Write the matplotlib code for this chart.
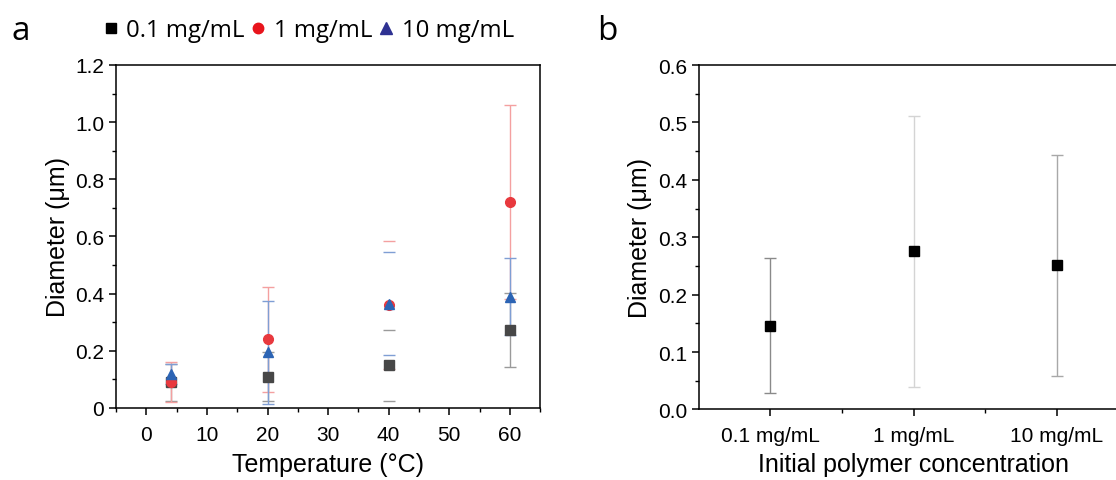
import numpy as np
from matplotlib import pyplot as plt
from matplotlib.lines import Line2D
from matplotlib.colors import to_rgba
from matplotlib.ticker import MultipleLocator, FixedLocator, FuncFormatter

# panel a: diameter vs temperature for three starting concentrations
temps = [4, 20, 40, 60]
d_01 = [0.09, 0.11, 0.15, 0.274]
e_01 = [0.065, 0.085, 0.124, 0.13]
d_1 = [0.09, 0.24, 0.36, 0.72]
e_1 = [0.07, 0.185, 0.225, 0.34]
d_10 = [0.12, 0.195, 0.365, 0.39]
e_10 = [0.035, 0.18, 0.18, 0.135]

# panel b: diameter vs initial polymer concentration
conc_labels = ["0.1 mg/mL", "1 mg/mL", "10 mg/mL"]
d_conc = [0.146, 0.276, 0.251]
e_conc = [0.118, 0.236, 0.193]
bar_greys = ["#8a8a8a", "#d4d4d4", "#a8a8a8"]

plt.rcParams.update({
    "font.family": ["Liberation Sans", "DejaVu Sans"],
    "font.size": 15,
    "axes.linewidth": 1.1,
    "xtick.direction": "out",
    "ytick.direction": "out",
    "xtick.major.size": 5,
    "ytick.major.size": 5,
    "xtick.minor.size": 3,
    "ytick.minor.size": 3,
    "xtick.major.width": 1.1,
    "ytick.major.width": 1.1,
    "xtick.minor.width": 1.0,
    "ytick.minor.width": 1.0,
})

fig = plt.figure(figsize=(11.16, 4.81), dpi=100)
ax_a = fig.add_axes([0.104, 0.1497, 0.380, 0.7131])
ax_b = fig.add_axes([0.6263, 0.1466, 0.3845, 0.7160])

# --- panel a
series = [
    (d_01, e_01, "s", "#474747", "#9a9a9a", 6.5),
    (d_1, e_1, "o", "#e8393e", "#f4a0a0", 7),
    (d_10, e_10, "^", "#2c64b4", "#7f9ed4", 7.5),
]
for d, e, m, c, ec, ms in series:
    cont = ax_a.errorbar(temps, d, yerr=e, fmt=m, color=c, mec=c, ecolor=ec,
                         elinewidth=1.0, capsize=4, capthick=1.0, markersize=ms)
    # in the original the vertical bar at 40 °C is not drawn, only the caps
    seg_cols = [to_rgba(ec, 0.0 if t == 40 else 1.0) for t in temps]
    cont[2][0].set_color(seg_cols)

ax_a.set_xlim(-5, 65)
ax_a.set_ylim(0, 1.2)
ax_a.xaxis.set_major_locator(MultipleLocator(10))
ax_a.xaxis.set_minor_locator(MultipleLocator(5))
ax_a.yaxis.set_major_locator(MultipleLocator(0.2))
ax_a.yaxis.set_minor_locator(MultipleLocator(0.1))
ax_a.yaxis.set_major_formatter(FuncFormatter(lambda v, p: "0" if abs(v) < 1e-9 else f"{v:.1f}"))
ax_a.set_xlabel("Temperature (°C)", fontsize=18, labelpad=6)
ax_a.set_ylabel("Diameter (μm)", fontsize=18, labelpad=4)

# --- panel b
xs = np.arange(len(conc_labels))
for x, d, e, g in zip(xs, d_conc, e_conc, bar_greys):
    ax_b.errorbar([x], [d], yerr=[e], fmt="s", color="black", mec="black",
                  ecolor=g, elinewidth=1.0, capsize=4, capthick=1.0,
                  markersize=6.5)

ax_b.set_xlim(-0.5, 2.5)
ax_b.set_ylim(0, 0.6)
ax_b.set_xticks(xs)
ax_b.set_xticklabels(conc_labels)
ax_b.xaxis.set_minor_locator(FixedLocator([0.5, 1.5]))
ax_b.yaxis.set_major_locator(MultipleLocator(0.1))
ax_b.yaxis.set_minor_locator(MultipleLocator(0.05))
ax_b.yaxis.set_major_formatter(FuncFormatter(lambda v, p: f"{v:.1f}"))
ax_b.set_xlabel("Initial polymer concentration", fontsize=18, labelpad=5)
ax_b.set_ylabel("Diameter (μm)", fontsize=18, labelpad=4)

for ax in (ax_a, ax_b):
    ax.tick_params(axis="x", pad=7)

# legend above panel a
handles = [
    Line2D([], [], ls="none", marker="s", color="black", markersize=7),
    Line2D([], [], ls="none", marker="o", color="#e8141c", markersize=7.5),
    Line2D([], [], ls="none", marker="^", color="#2e3192", markersize=8),
]
fig.legend(handles, conc_labels, loc="center left", bbox_to_anchor=(0.070, 0.935),
           ncol=3, frameon=False, handletextpad=0.2, columnspacing=0.12,
           handlelength=0.9, prop={"family": "Open Sans", "size": 17.3})

fig.text(0.010, 0.935, "a", fontsize=24, family="Open Sans", va="center")
fig.text(0.535, 0.935, "b", fontsize=24, family="Open Sans", va="center")

fig.savefig("out.png", dpi=100)
